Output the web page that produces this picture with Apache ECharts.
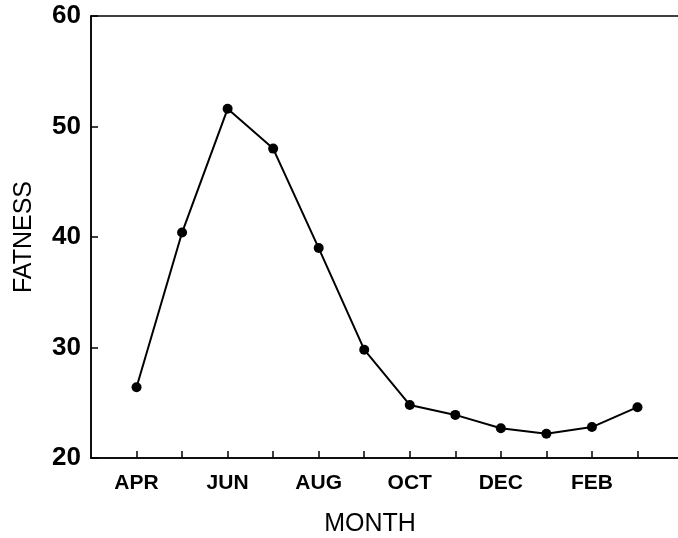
<!DOCTYPE html>
<html>
<head>
<meta charset="utf-8">
<script src="https://cdn.jsdelivr.net/npm/echarts@6/dist/echarts.min.js"></script>
<style>html,body{margin:0;padding:0;background:#fff}#c{width:678px;height:538px}</style>
</head>
<body>
<div id="c"></div>
<script>
var months = ['APR','MAY','JUN','JUL','AUG','SEP','OCT','NOV','DEC','JAN','FEB','MAR'];
var tickLabels = ['APR','','JUN','','AUG','','OCT','','DEC','','FEB',''];
var fatness = [26.4, 40.4, 51.6, 48.0, 39.0, 29.8, 24.8, 23.9, 22.7, 22.2, 22.8, 24.6];
var yTicks = [20, 30, 40, 50, 60];

var chart = echarts.init(document.getElementById('c'));
var font = 'Liberation Sans, Arial, Helvetica, sans-serif';
chart.setOption({
  animation: false,
  backgroundColor: '#fff',
  grid: {left: 91, top: 16, bottom: 80, width: 592, show: true, borderColor: '#000', borderWidth: 1.5,
    containLabel: false, outerBoundsMode: 'none'},
  xAxis: {
    type: 'value', min: -1, max: 12, interval: 1,
    axisLine: {show: true, onZero: false, lineStyle: {color: '#000', width: 1.5}},
    axisTick: {show: true, inside: true, length: 7, lineStyle: {color: '#000', width: 1.5},
      customValues: months.map(function(m, i){ return i; })},
    axisLabel: {show: true, color: '#000', fontFamily: font, fontSize: 21, fontWeight: 'bold', margin: 15,
      customValues: tickLabels.map(function(t, i){ return i; }).filter(function(i){ return tickLabels[i] !== ''; }),
      formatter: function(v){ return tickLabels[v] || ''; }},
    splitLine: {show: false},
    name: 'MONTH', nameLocation: 'middle', nameGap: 54,
    nameTextStyle: {color: '#000', fontFamily: font, fontSize: 25, padding: [0, 34, 0, 0]}
  },
  yAxis: {
    type: 'value', min: 20, max: 60, interval: 10,
    axisLine: {show: true, onZero: false, lineStyle: {color: '#000', width: 1.5}},
    axisTick: {show: true, inside: true, length: 7, lineStyle: {color: '#000', width: 1.5}},
    axisLabel: {color: '#000', fontFamily: font, fontSize: 26, fontWeight: 'bold', margin: 10,
      formatter: function(v){ return yTicks.indexOf(v) >= 0 ? String(v) : ''; }},
    splitLine: {show: false},
    name: 'FATNESS', nameLocation: 'middle', nameGap: 54, nameRotate: 90,
    nameTextStyle: {color: '#000', fontFamily: font, fontSize: 25}
  },
  series: [{
    type: 'line',
    data: fatness.map(function(v, i){ return [i, v]; }),
    symbol: 'circle', symbolSize: 10,
    itemStyle: {color: '#000'},
    lineStyle: {color: '#000', width: 2}
  }]
});
</script>
</body>
</html>
